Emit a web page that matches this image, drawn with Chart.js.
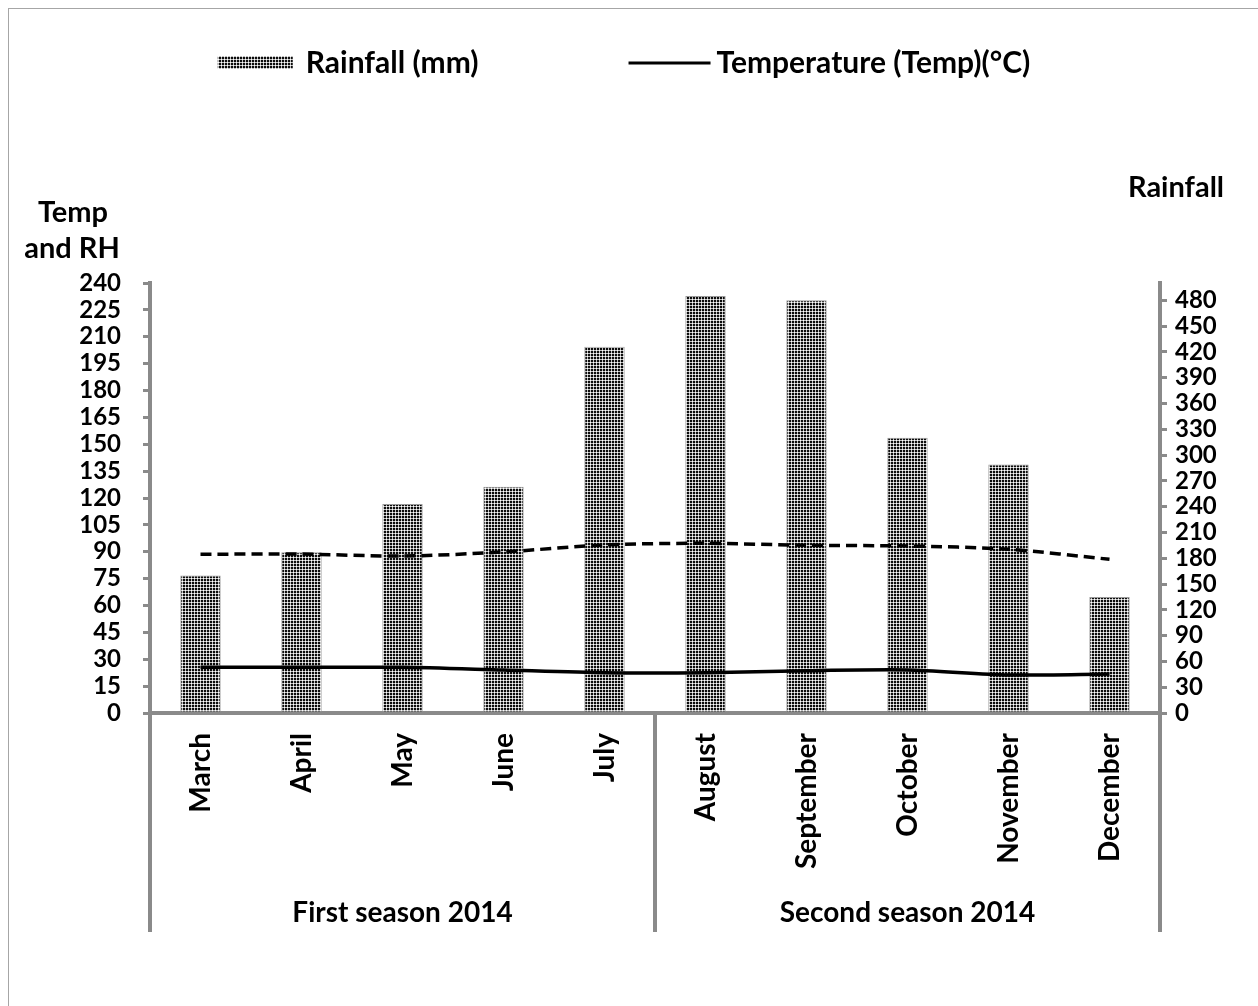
<!DOCTYPE html>
<html>
<head>
<meta charset="utf-8">
<script src="https://cdn.jsdelivr.net/npm/chart.js@4.4.1/dist/chart.umd.min.js"></script>
<style>
  html, body { margin: 0; padding: 0; background: #fff; }
  #wrap { position: relative; width: 1258px; height: 1006px; overflow: hidden; }
  #frame { position: absolute; left: 8px; top: 8px; width: 1400px; height: 1200px;
           border: 1px solid #a6a6a6; box-sizing: border-box; }
  #c { position: absolute; left: 0; top: 0; }
</style>
</head>
<body>
<div id="wrap">
  <div id="frame"></div>
  <canvas id="c" width="1258" height="1006"></canvas>
</div>
<script>
// Monthly climate data, 2014
const months = ['March', 'April', 'May', 'June', 'July',
                'August', 'September', 'October', 'November', 'December'];
const seasons = ['First season 2014', 'Second season 2014'];
const seasonLengths = [5, 5];

const rainfall    = [160, 187, 243, 263, 426, 485, 480, 320, 289, 135];
const temperature = [25.5, 25.5, 25.5, 24.0, 22.5, 22.5, 23.6, 24.0, 21.2, 21.8];
const humidity    = [88.6, 88.7, 87.6, 89.9, 93.8, 94.7, 93.6, 93.2, 91.4, 85.8];

const leftTickValues  = [0, 15, 30, 45, 60, 75, 90, 105, 120, 135, 150, 165, 180, 195, 210, 225, 240];
const rightTickValues = [0, 30, 60, 90, 120, 150, 180, 210, 240, 270, 300, 330, 360, 390, 420, 450, 480];

const leftTitle  = ['Temp', 'and RH'];
const rightTitle = 'Rainfall';

const FONT = 'Lato';
const AXIS_GREY = '#8a8a8a';

// Dotted screen used to fill the rainfall bars
function makeScreen() {
  const t = document.createElement('canvas');
  t.width = 3; t.height = 3;
  const g = t.getContext('2d');
  g.fillStyle = '#bdbdbd';
  g.fillRect(0, 0, 3, 3);
  g.fillStyle = '#ffffff';
  g.fillRect(2, 2, 1, 1);
  g.fillStyle = '#0c0c0c';
  g.fillRect(0, 0, 2, 2);
  return g.createPattern(t, 'repeat');
}
const ctx = document.getElementById('c').getContext('2d');
const screen = makeScreen();

// Legend, axis titles, season brackets
const decorations = {
  id: 'decorations',
  afterDraw(chart) {
    const c = chart.ctx;
    const area = chart.chartArea;
    const xs = chart.scales.x;
    c.save();

    // legend
    const rain = chart.data.datasets[2];
    const temp = chart.data.datasets[0];
    c.font = 'bold 30px ' + FONT;
    c.textBaseline = 'middle';
    c.textAlign = 'left';
    const w1 = c.measureText(rain.label).width;
    const w2 = c.measureText(temp.label).width;
    const box = 75, gap1 = 13, spacing = 150, line = 82, gap2 = 6;
    const total = box + gap1 + w1 + spacing + line + gap2 + w2;
    let lx = 624 - total / 2;
    const ly = 63;
    c.fillStyle = screen;
    c.fillRect(lx, ly - 7, box, 13);
    c.fillStyle = '#000';
    c.fillText(rain.label, lx + box + gap1, ly);
    lx += box + gap1 + w1 + spacing;
    c.strokeStyle = '#000';
    c.lineWidth = 3;
    c.beginPath();
    c.moveTo(lx, ly);
    c.lineTo(lx + line, ly);
    c.stroke();
    c.fillText(temp.label, lx + line + gap2, ly);

    // axis titles
    c.textAlign = 'center';
    c.font = 'bold 29px ' + FONT;
    c.fillText(leftTitle[0], 73, 213);
    c.fillText(leftTitle[1], 72, 249);
    c.fillText(rightTitle, 1176, 188);

    // season dividers below the category axis
    const step = (xs.getPixelForValue(1) - xs.getPixelForValue(0));
    const edges = [area.left];
    let idx = 0;
    seasonLengths.forEach(n => {
      idx += n;
      edges.push(idx >= months.length ? area.right
                 : xs.getPixelForValue(idx - 1) + step / 2);
    });
    c.strokeStyle = AXIS_GREY;
    c.lineWidth = 4;
    edges.forEach(x => {
      c.beginPath();
      c.moveTo(x, area.bottom);
      c.lineTo(x, 932);
      c.stroke();
    });
    c.font = 'bold 28px ' + FONT;
    c.fillStyle = '#000';
    seasons.forEach((s, i) => {
      c.fillText(s, (edges[i] + edges[i + 1]) / 2, 913);
    });
    c.restore();
  }
};

new Chart(ctx, {
  data: {
    labels: months,
    datasets: [
      {
        type: 'line',
        label: 'Temperature (Temp)(°C)',
        data: temperature,
        yAxisID: 'y',
        borderColor: '#000',
        borderWidth: 3.5,
        pointRadius: 0,
        tension: 0.25,
        order: 1
      },
      {
        type: 'line',
        label: 'RH (%)',
        data: humidity,
        yAxisID: 'y',
        borderColor: '#000',
        borderWidth: 3.5,
        borderDash: [11, 6],
        pointRadius: 0,
        tension: 0.3,
        order: 1
      },
      {
        type: 'bar',
        label: 'Rainfall (mm)',
        data: rainfall,
        yAxisID: 'y1',
        backgroundColor: screen,
        borderColor: '#9a9a9a',
        borderWidth: 1,
        barPercentage: 0.4,
        categoryPercentage: 1.0,
        order: 3
      }
    ]
  },
  options: {
    responsive: false,
    animation: false,
    events: [],
    layout: { padding: { top: 283, left: 0, right: 0, bottom: 0 } },
    plugins: { legend: { display: false }, tooltip: { enabled: false } },
    scales: {
      x: {
        type: 'category',
        offset: true,
        grid: { display: false },
        border: { display: true, color: AXIS_GREY, width: 4 },
        ticks: {
          minRotation: 90, maxRotation: 90, autoSkip: false,
          padding: 12, color: '#000',
          font: { family: FONT, size: 28, weight: 'bold' }
        },
        afterFit(s) { s.height = 293; }
      },
      y: {
        type: 'linear',
        position: 'left',
        min: 0, max: 240,
        afterBuildTicks(s) { s.ticks = leftTickValues.map(v => ({ value: v })); },
        grid: { drawOnChartArea: false, drawTicks: true, tickLength: 7,
                color: AXIS_GREY, lineWidth: 3 },
        border: { display: true, color: AXIS_GREY, width: 4 },
        ticks: { padding: 22, color: '#000', autoSkip: false,
                 font: { family: FONT, size: 24, weight: 'bold' } },
        afterFit(s) { s.width = 150; }
      },
      y1: {
        type: 'linear',
        position: 'right',
        min: 0, max: 500,
        afterBuildTicks(s) { s.ticks = rightTickValues.map(v => ({ value: v })); },
        grid: { drawOnChartArea: false, drawTicks: true, tickLength: 7,
                color: AXIS_GREY, lineWidth: 3 },
        border: { display: true, color: AXIS_GREY, width: 4 },
        ticks: { padding: 8, color: '#000', autoSkip: false,
                 font: { family: FONT, size: 24, weight: 'bold' } },
        afterFit(s) { s.width = 98; }
      }
    }
  },
  plugins: [decorations]
});
</script>
</body>
</html>
